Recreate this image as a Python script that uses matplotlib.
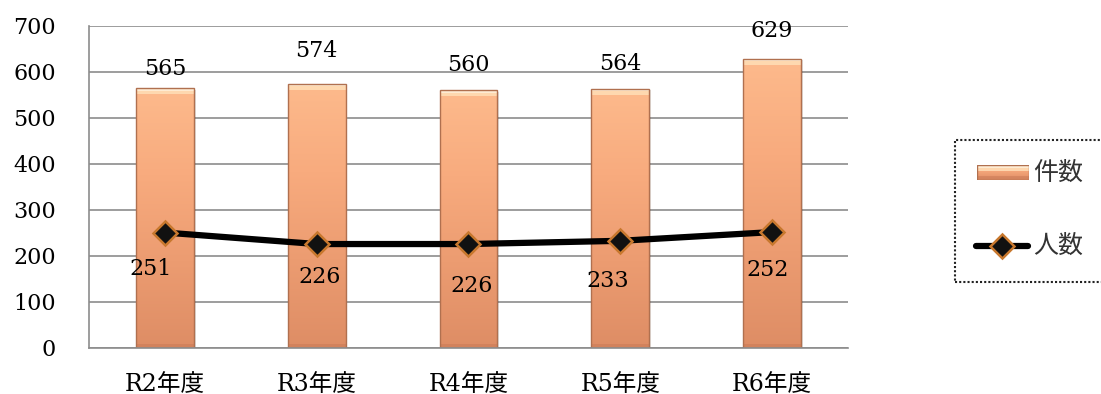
import numpy as np
import matplotlib
matplotlib.use("Agg")
import matplotlib.pyplot as plt
from matplotlib.patches import Rectangle
from matplotlib.lines import Line2D
from matplotlib.colors import LinearSegmentedColormap

plt.rcParams['font.family'] = ['DejaVu Serif', 'Noto Sans CJK JP']

categories = ["R2年度", "R3年度", "R4年度", "R5年度", "R6年度"]
cases = [565, 574, 560, 564, 629]      # 件数
people = [251, 226, 226, 233, 252]     # 人数
yticks = [0, 100, 200, 300, 400, 500, 600, 700]

# label offsets (points) for the value annotations
case_label_dy = [14, 24, 18, 18, 20]
people_label_dx = [-10, 2, 2, -9, -3]
people_label_dy = [-26, -24, -30, -29, -27]

W, H = 1101, 394
fig = plt.figure(figsize=(W / 100, H / 100), dpi=100)
ax = fig.add_axes([89 / W, 1 - 348 / H, (848 - 89) / W, (348 - 26) / H])

x = np.arange(len(categories))
bar_w = 0.38

ax.set_xlim(-0.5, len(categories) - 0.5)
ax.set_ylim(0, 700)
ax.set_yticks(yticks)
ax.set_yticklabels([str(t) for t in yticks], fontsize=16)
ax.set_xticks(x)
ax.set_xticklabels(categories, fontsize=17)
ax.tick_params(axis='both', length=0)
ax.tick_params(axis='x', pad=18)
ax.tick_params(axis='y', pad=24)
ax.yaxis.grid(True, color='#8c8c8c', linewidth=1.2)
ax.set_axisbelow(True)
for s in ['top', 'right']:
    ax.spines[s].set_visible(False)
for s in ['left', 'bottom']:
    ax.spines[s].set_color('#8c8c8c')
    ax.spines[s].set_linewidth(1.2)

bar_cmap = LinearSegmentedColormap.from_list(
    "bar", ["#fdba8c", "#f8ab7e", "#ec9c71", "#de8d65"])
grad = np.linspace(0, 1, 256).reshape(-1, 1)


def draw_bevel_bar(a, bx, bw, bh, px):
    """Gradient bar with a light top bevel and a shaded base."""
    im = a.imshow(grad, cmap=bar_cmap, aspect='auto', origin='upper',
                  extent=(bx, bx + bw, 0, bh), zorder=2)
    im.set_clip_path(Rectangle((bx, 0), bw, bh, transform=a.transData))
    a.add_patch(Rectangle((bx, bh - 6 * px), bw, 6 * px, facecolor='#ffdcb4',
                          edgecolor='none', alpha=0.9, zorder=2.1))
    a.add_patch(Rectangle((bx, bh - 2.5 * px), bw, 2.5 * px,
                          facecolor='#fff1dc', edgecolor='none', alpha=0.8,
                          zorder=2.15))
    a.add_patch(Rectangle((bx, 0), bw, 4 * px, facecolor='#c47652',
                          edgecolor='none', alpha=0.45, zorder=2.1))
    a.add_patch(Rectangle((bx, 0), bw, bh, facecolor='none',
                          edgecolor='#b0704f', linewidth=1.0, zorder=2.2))


bars = ax.bar(x, cases, width=bar_w, color='none', edgecolor='none', zorder=2)
for rect in bars:
    bx, bw, bh = rect.get_x(), rect.get_width(), rect.get_height()
    ax.add_patch(Rectangle((bx + 0.012, -4), bw, bh, facecolor='#000000',
                           alpha=0.12, edgecolor='none', zorder=1.8))
    draw_bevel_bar(ax, bx, bw, bh, 700 / 322)

for xi, v, dy in zip(x, cases, case_label_dy):
    ax.annotate(str(v), (xi, v), xytext=(0, dy), textcoords='offset points',
                ha='center', va='center', fontsize=16, zorder=5)

ax.plot(x, people, color='black', linewidth=4.5, zorder=3,
        solid_capstyle='round')
ax.plot(x, people, linestyle='none', marker='D', markersize=12,
        markerfacecolor='#111111', markeredgecolor='#c8782e',
        markeredgewidth=1.8, zorder=4)

for xi, v, dx, dy in zip(x, people, people_label_dx, people_label_dy):
    ax.annotate(str(v), (xi, v), xytext=(dx, dy), textcoords='offset points',
                ha='center', va='center', fontsize=16, zorder=5)

# legend box
lx0, ly0, lx1, ly1 = 955 / W, 1 - 282 / H, 1.2, 1 - 140 / H
box = Rectangle((lx0, ly0), lx1 - lx0, ly1 - ly0,
                transform=fig.transFigure, facecolor='white',
                edgecolor='#222222', linewidth=1.5,
                linestyle=(0, (1, 1)), zorder=-1)
fig.patches.append(box)

# 件数 legend swatch
sw = fig.add_axes([977 / W, 1 - 180 / H, 52 / W, 15 / H], zorder=3)
sw.set_xlim(0, 1)
sw.set_ylim(0, 1)
draw_bevel_bar(sw, 0, 1, 1, 1 / 15)
sw.axis('off')
fig.text(1033 / W, 1 - 173 / H, "件数", fontsize=18, va='center', ha='left',
         color='#333333')

# 人数 legend line
fig.add_artist(Line2D([976 / W, 1028 / W], [1 - 246 / H, 1 - 246 / H],
                      transform=fig.transFigure, color='black',
                      linewidth=4.5, solid_capstyle='round'))
fig.add_artist(Line2D([1002 / W], [1 - 246 / H], transform=fig.transFigure,
                      marker='D', markersize=12, markerfacecolor='#111111',
                      markeredgecolor='#c8782e', markeredgewidth=1.8,
                      linestyle='none'))
fig.text(1033 / W, 1 - 246 / H, "人数", fontsize=18, va='center', ha='left',
         color='#333333')

fig.savefig("out.png", dpi=100)
